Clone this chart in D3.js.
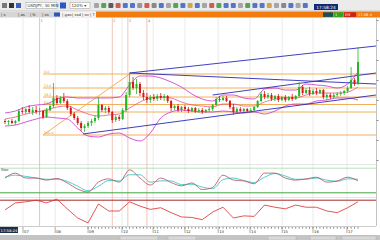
<!DOCTYPE html>
<html lang="en">
<head>
<meta charset="utf-8">
<title>USD/JPY 30 min</title>
<script src="https://d3js.org/d3.v7.min.js"></script>
<style>
  body { margin: 0; background: #fff; }
  svg { display: block; font-family: "DejaVu Sans", sans-serif; }
</style>
</head>
<body>
<script>
// ---- candles (one per bar) ----
var opens = [107.9,107.8,107.9,107.7,107.9,108.9,108.8,109.1,108.8,109.0,
  108.8,108.9,108.3,109.0,109.4,110.2,109.7,110.2,109.9,109.2,
  108.6,108.2,107.7,107.2,107.4,107.7,107.9,108.2,109.5,109.0,
  109.2,108.8,108.0,108.3,108.1,109.0,110.5,111.8,111.2,111.6,
  110.7,110.3,110.0,110.3,110.1,110.4,110.2,110.4,109.9,109.2,
  109.4,109.0,109.3,109.1,108.9,109.2,108.9,109.0,108.8,109.0,
  109.1,109.5,110.1,110.0,110.2,109.9,109.3,108.8,109.1,108.9,
  109.1,108.9,109.0,109.3,109.9,110.6,110.3,110.5,110.1,110.4,
  110.0,110.3,110.0,110.3,110.1,110.4,111.3,110.7,111.0,110.6,
  110.9,110.7,111.0,110.3,110.5,110.3,110.5,110.6,110.7,110.9,
  111.2,112.0,111.6];
var highs = [108.1,108.0,108.1,108.0,109.1,109.3,109.2,109.5,109.3,109.4,
  109.2,109.0,109.2,109.6,111.7,110.5,110.4,110.7,110.1,109.4,
  108.8,108.4,107.9,107.6,107.9,108.1,108.5,110.3,109.6,109.4,
  109.4,108.9,108.5,108.5,109.2,110.8,112.7,112.3,112.1,111.8,
  111.0,110.7,110.5,110.6,110.6,110.7,110.6,110.5,110.0,109.5,
  109.6,109.4,109.5,109.3,109.3,109.3,109.2,109.2,109.1,109.3,
  109.6,110.3,110.4,110.4,110.4,110.0,109.6,109.3,109.3,109.2,
  109.2,109.2,109.4,110.0,110.8,110.9,110.7,110.7,110.5,110.6,
  110.4,110.5,110.4,110.6,110.5,111.8,111.5,111.2,111.3,111.1,
  111.2,111.1,111.1,110.7,110.7,110.7,110.8,110.9,111.0,111.4,
  113.3,112.2,115.3];
var lows = [107.6,107.5,107.6,107.5,107.8,108.6,108.6,108.7,108.5,108.6,
  108.5,108.1,108.2,108.9,109.2,109.5,109.6,109.7,109.0,108.4,
  108.0,107.5,106.9,106.8,107.2,107.4,107.7,108.0,108.8,108.7,
  108.6,107.7,107.8,107.9,108.0,108.8,110.3,111.0,110.6,110.4,
  110.0,109.7,109.7,109.9,109.9,110.0,109.9,109.7,108.9,109.0,
  108.8,108.8,108.9,108.7,108.8,108.7,108.7,108.6,108.7,108.8,
  108.9,109.4,109.8,109.9,109.8,109.1,108.5,108.7,108.8,108.8,
  108.7,108.7,108.8,109.2,109.8,110.1,110.1,109.9,109.9,109.8,
  109.9,109.8,109.9,109.9,110.0,110.3,110.5,110.6,110.4,110.5,
  110.5,110.6,110.1,110.0,110.1,110.2,110.3,110.4,110.5,110.7,
  111.1,111.4,111.5];
var closes = [107.8,107.9,107.7,107.9,108.9,108.8,109.1,108.8,109.0,108.8,
  108.9,108.3,109.0,109.4,110.2,109.7,110.2,109.9,109.2,108.6,
  108.2,107.7,107.2,107.4,107.7,107.9,108.2,109.5,109.0,109.2,
  108.8,108.0,108.3,108.1,109.0,110.5,111.8,111.2,111.6,110.7,
  110.3,110.0,110.3,110.1,110.4,110.2,110.4,109.9,109.2,109.4,
  109.0,109.3,109.1,108.9,109.2,108.9,109.0,108.8,109.0,109.1,
  109.5,110.1,110.0,110.2,109.9,109.3,108.8,109.1,108.9,109.1,
  108.9,109.0,109.3,109.9,110.6,110.3,110.5,110.1,110.4,110.0,
  110.3,110.0,110.3,110.1,110.4,111.3,110.7,111.0,110.6,110.9,
  110.7,111.0,110.3,110.5,110.3,110.5,110.6,110.7,110.9,111.2,
  112.0,111.6,113.8];

// ---- indicators, read every 3rd bar ----
var bandUpper = [108.7,108.9,109.3,109.5,109.6,110.1,110.3,110.2,110.2,110.2,
  110.2,110.3,111.5,112.4,112.4,112.2,111.8,111.3,110.6,110.1,
  109.9,110.5,110.5,110.2,110.1,111.1,111.2,111.0,111.0,111.6,
  111.5,111.4,111.2,111.6,112.8];
var bandMid = [108.1,108.3,108.6,108.8,109.0,109.3,109.4,109.0,108.6,108.4,
  108.5,108.6,109.2,109.8,110.2,110.3,110.2,109.8,109.5,109.4,
  109.3,109.6,109.6,109.4,109.4,109.8,110.1,110.2,110.2,110.5,
  110.7,110.7,110.7,110.8,111.3];
var bandLower = [107.4,107.5,107.8,108.1,108.3,108.2,108.1,107.2,106.4,106.3,
  106.6,106.7,106.2,105.9,106.7,108.2,108.8,109.0,108.9,108.8,
  108.8,108.9,108.8,108.7,108.8,108.6,108.9,109.4,109.6,109.6,
  109.9,110.0,110.2,110.2,110.0];
var stochK = [56,68,56,56,51,55,44,29,22,46,54,46,76,56,39,56,45,37,44,28,
  33,63,51,49,42,68,68,56,51,54,58,46,49,58,49];
var stochD = [58,63,60,56,53,53,48,36,25,36,50,49,64,64,46,49,49,40,41,34,
  30,52,56,50,45,58,67,61,53,53,56,51,48,54,53];
var rsiVals = [52,65,67,70,65,72,54,37,28,63,50,50,67,59,53,56,47,39,38,34,
  48,57,37,41,40,61,57,54,61,57,57,50,47,56,67];
var sampleStep = 3;

// ---- drawings ----
var trendLines = [[36,112.7,107.2,115.4],[36,112.7,107.2,111.6],[22.5,106.6,107.2,110.5],[60,110.5,107.2,112.7]];
var fibPrices = [112.6,111.2,110.3,109.55,108.8,106.5];
var fibLabels = ["0.0","23.6","38.2","50.0","61.8","100.0"];
var fibStart = [11, 106.5], fibEnd = [36, 112.6];
var markerIdx = [10, 31, 35.5, 41];
var markerLabels = ["1", "2", "3", "4"];
var dayIdx = [5.2,14.5,24,33.8,42.8,52,61.6,70.8,80.1,89,98.8];
var dayLabels = ["07","08","09","10","11","12","13","14","15","16","17"];
var priceTicks = [104,106,108,110,112,114,116,118];

var W = 380, H = 240, plotR = 376;
var svg = d3.select("body").append("svg").attr("width", W).attr("height", H);

var x = d3.scaleLinear().domain([0, 102]).range([5, 358]);
var y = d3.scaleLinear().domain([103.5, 118.2]).range([165, 18]);
var yS = d3.scaleLinear().domain([0, 100]).range([201, 160]);
var yR = d3.scaleLinear().domain([0, 100]).range([238, 184]);

var defs = svg.append("defs");
function clip(id, y0, y1) {
  defs.append("clipPath").attr("id", id).append("rect")
    .attr("x", 0).attr("y", y0).attr("width", plotR).attr("height", y1 - y0);
}
clip("cMain", 18, 164);
clip("cSto", 165, 197);
clip("cRsi", 198, 226);

// ---- toolbar ----
svg.append("rect").attr("width", W).attr("height", 11).attr("fill", "#ebebeb");
svg.append("line").attr("x1", 0).attr("x2", W).attr("y1", 11).attr("y2", 11).attr("stroke", "#b5b5b5").attr("stroke-width", 0.6);
var leftIcons = ["#777", "#333", "#3a62c4"];
svg.selectAll(".li").data(leftIcons).enter().append("rect")
  .attr("x", function(d, i) { return 2 + i * 7; }).attr("y", 3).attr("width", 5).attr("height", 5)
  .attr("fill", function(d) { return d; });
svg.append("rect").attr("x", 26).attr("y", 2.5).attr("width", 31).attr("height", 6).attr("fill", "#fff").attr("stroke", "#9a9a9a").attr("stroke-width", 0.5);
svg.append("text").attr("x", 27.5).attr("y", 7.3).attr("font-size", 4).attr("fill", "#333").text("USDJPY, 30 MIN");
svg.append("rect").attr("x", 60).attr("y", 2.5).attr("width", 6).attr("height", 6).attr("fill", "#2f57c0");
svg.append("rect").attr("x", 70).attr("y", 2.5).attr("width", 20).attr("height", 6).attr("fill", "#fff").attr("stroke", "#9a9a9a").attr("stroke-width", 0.5);
svg.append("text").attr("x", 71.5).attr("y", 7.3).attr("font-size", 4).attr("fill", "#333").text("120% ▾");
var iconColors = ["#999","#3a9a3a","#444","#c43","#3a62c4","#3a62c4","#888","#c43","#777","#3a62c4",
  "#999","#3a9a3a","#3a62c4","#c93","#3a62c4","#999","#c43","#3a9a3a","#3a62c4","#3a62c4",
  "#999","#3a9a3a","#3a62c4","#3a62c4","#c93","#999","#777","#3a62c4","#999","#3a62c4"];
svg.selectAll(".ic").data(iconColors).enter().append("rect")
  .attr("x", function(d, i) { return 94 + i * 7.2; }).attr("y", 3).attr("width", 5).attr("height", 5)
  .attr("rx", 1).attr("fill", function(d) { return d; }).attr("opacity", 0.85);
svg.append("rect").attr("x", 314).attr("y", 4).attr("width", 24).attr("height", 6).attr("fill", "#142874");
svg.append("text").attr("x", 326).attr("y", 8.6).attr("text-anchor", "middle").attr("font-size", 4.3).attr("fill", "#fff").text("17:58:24");

// ---- tab row ----
svg.append("rect").attr("x", 0).attr("y", 11.5).attr("width", 96).attr("height", 6).attr("fill", "#d6d6d6");
svg.append("rect").attr("x", 60).attr("y", 11.5).attr("width", 36).attr("height", 6).attr("fill", "#f4f4f4");
svg.append("rect").attr("x", 54).attr("y", 12.5).attr("width", 6).attr("height", 4).attr("fill", "#2f57c0");
var tabs = [[1, "s"], [18, "as"], [30, "fc"], [42, "os"], [62, "gao"], [72, "ssd"], [82, "ov"], [90, "T"]];
svg.selectAll(".tab").data(tabs).enter().append("text")
  .attr("x", function(d) { return d[0]; }).attr("y", 16.3).attr("font-size", 3.8).attr("fill", "#333")
  .text(function(d) { return "| " + d[1]; });
svg.append("rect").attr("x", 96).attr("y", 11.5).attr("width", W - 96).attr("height", 6).attr("fill", "#f37a0c");
var statBoxes = [[323, 10, "#1d4f5a", ""], [334, 9, "#2aa52a", "1"], [344, 12, "#c8201c", "EM"]];
statBoxes.forEach(function(b) {
  svg.append("rect").attr("x", b[0]).attr("y", 12.3).attr("width", b[1]).attr("height", 4.6).attr("fill", b[2]);
  svg.append("text").attr("x", b[0] + 1).attr("y", 16).attr("font-size", 3.6).attr("fill", "#fff").text(b[3]);
});
svg.append("text").attr("x", 358).attr("y", 16).attr("font-size", 3.6).attr("fill", "#fff").text("17:56 ✕");

// ---- grid & separators ----
var g = svg.append("g");
g.selectAll(".vg").data(dayIdx).enter().append("line")
  .attr("x1", function(d) { return x(d); }).attr("x2", function(d) { return x(d); })
  .attr("y1", 18).attr("y2", 226).attr("stroke", "#e2e2e2").attr("stroke-width", 0.7);
[164.5, 197.5].forEach(function(v) {
  g.append("line").attr("x1", 0).attr("x2", plotR).attr("y1", v).attr("y2", v).attr("stroke", "#d4d4d4").attr("stroke-width", 0.6);
});
g.append("line").attr("x1", plotR + 0.5).attr("x2", plotR + 0.5).attr("y1", 18).attr("y2", 226).attr("stroke", "#9a9a9a").attr("stroke-width", 0.6);

// vertical marker lines
g.selectAll(".mk").data(markerIdx).enter().append("line")
  .attr("x1", function(d) { return x(d); }).attr("x2", function(d) { return x(d); })
  .attr("y1", 18).attr("y2", 226)
  .attr("stroke", function(d, i) { return i === 0 ? "#e9b77a" : "#f0b4a4"; }).attr("stroke-width", 0.8);
g.selectAll(".mkl").data(markerIdx).enter().append("text")
  .attr("x", function(d) { return x(d) + 1; }).attr("y", 22).attr("font-size", 3.5).attr("fill", "#b07a50")
  .text(function(d, i) { return markerLabels[i]; });

// ---- main panel ----
var main = svg.append("g").attr("clip-path", "url(#cMain)");

// fibonacci
main.selectAll(".fib").data(fibPrices).enter().append("line")
  .attr("x1", x(fibStart[0])).attr("x2", plotR)
  .attr("y1", function(d) { return y(d); }).attr("y2", function(d) { return y(d); })
  .attr("stroke", "#f3a64a").attr("stroke-width", 0.9);
main.selectAll(".fibl").data(fibPrices).enter().append("text")
  .attr("x", x(fibStart[0]) + 1).attr("y", function(d) { return y(d) - 1; })
  .attr("font-size", 3.3).attr("fill", "#d88a30")
  .text(function(d, i) { return fibLabels[i]; });
main.append("line").attr("x1", x(fibStart[0])).attr("y1", y(fibStart[1]))
  .attr("x2", x(fibEnd[0])).attr("y2", y(fibEnd[1])).attr("stroke", "#f3a64a").attr("stroke-width", 0.9);

// bollinger
var bandLine = d3.line().x(function(d, i) { return x(i * sampleStep); }).y(function(d) { return y(d); }).curve(d3.curveMonotoneX);
main.append("path").attr("d", bandLine(bandUpper)).attr("fill", "none").attr("stroke", "#c830c8").attr("stroke-width", 0.8);
main.append("path").attr("d", bandLine(bandLower)).attr("fill", "none").attr("stroke", "#c830c8").attr("stroke-width", 0.8);
main.append("path").attr("d", bandLine(bandMid)).attr("fill", "none").attr("stroke", "#e2427a").attr("stroke-width", 0.7);

// trend lines
main.selectAll(".tl").data(trendLines).enter().append("line")
  .attr("x1", function(d) { return x(d[0]); }).attr("y1", function(d) { return y(d[1]); })
  .attr("x2", function(d) { return x(d[2]); }).attr("y2", function(d) { return y(d[3]); })
  .attr("stroke", "#2a2ab8").attr("stroke-width", 0.9);

// candles
var bars = d3.range(opens.length);
var up = function(i) { return closes[i] >= opens[i]; };
main.selectAll(".wick").data(bars).enter().append("line")
  .attr("x1", function(i) { return x(i); }).attr("x2", function(i) { return x(i); })
  .attr("y1", function(i) { return y(highs[i]); }).attr("y2", function(i) { return y(lows[i]); })
  .attr("stroke", function(i) { return up(i) ? "#26b526" : "#d81818"; }).attr("stroke-width", 0.8);
main.selectAll(".body").data(bars).enter().append("rect")
  .attr("x", function(i) { return x(i) - 1; }).attr("width", 2)
  .attr("y", function(i) { return y(Math.max(opens[i], closes[i])); })
  .attr("height", function(i) { return Math.max(0.8, Math.abs(y(opens[i]) - y(closes[i]))); })
  .attr("fill", function(i) { return up(i) ? "#26b526" : "#d81818"; });

// right price axis: only the tick marks fit inside the window
svg.append("g").attr("transform", "translate(" + (plotR + 0.5) + ",0)")
  .call(d3.axisRight(y).tickValues(priceTicks).tickSize(2).tickFormat(""))
  .call(function(a) { a.select(".domain").remove(); a.selectAll("line").attr("stroke", "#888"); });

// ---- stochastic panel ----
var sto = svg.append("g").attr("clip-path", "url(#cSto)");
sto.append("line").attr("x1", 0).attr("x2", plotR).attr("y1", yS(80)).attr("y2", yS(80)).attr("stroke", "#a8dca8").attr("stroke-width", 0.8);
sto.append("line").attr("x1", 0).attr("x2", plotR).attr("y1", yS(20)).attr("y2", yS(20)).attr("stroke", "#2f9e2f").attr("stroke-width", 0.9);
var stoLine = d3.line().x(function(d, i) { return x(i * sampleStep); }).y(function(d) { return yS(d); }).curve(d3.curveMonotoneX);
sto.append("path").attr("d", stoLine(stochD)).attr("fill", "none").attr("stroke", "#3cc8c8").attr("stroke-width", 0.9);
sto.append("path").attr("d", stoLine(stochK)).attr("fill", "none").attr("stroke", "#b84a5a").attr("stroke-width", 0.8);
svg.append("text").attr("x", 1).attr("y", 171).attr("font-size", 3.5).attr("fill", "#333").text("Stoc");

// ---- second oscillator ----
var rsi = svg.append("g").attr("clip-path", "url(#cRsi)");
rsi.append("line").attr("x1", 0).attr("x2", plotR).attr("y1", yR(70)).attr("y2", yR(70)).attr("stroke", "#9a1414").attr("stroke-width", 0.9);
var rsiLine = d3.line().x(function(d, i) { return x(i * sampleStep); }).y(function(d) { return yR(d); });
rsi.append("path").attr("d", rsiLine(rsiVals)).attr("fill", "none").attr("stroke", "#e02828").attr("stroke-width", 0.8);

// ---- time axis ----
svg.append("line").attr("x1", 0).attr("x2", plotR).attr("y1", 226.5).attr("y2", 226.5).attr("stroke", "#aaa").attr("stroke-width", 0.6);
svg.selectAll(".bt").data(bars.filter(function(i) { return i >= 24; })).enter().append("line")
  .attr("x1", function(i) { return x(i); }).attr("x2", function(i) { return x(i); })
  .attr("y1", 227).attr("y2", 228.6).attr("stroke", "#333").attr("stroke-width", 0.6);
svg.selectAll(".dt").data(dayIdx).enter().append("line")
  .attr("x1", function(d) { return x(d); }).attr("x2", function(d) { return x(d); })
  .attr("y1", 227).attr("y2", 233).attr("stroke", "#555").attr("stroke-width", 0.5);
svg.selectAll(".dl").data(dayIdx).enter().append("text")
  .attr("x", function(d) { return x(d) + 1; }).attr("y", 232.5).attr("font-size", 3.8).attr("fill", "#333")
  .text(function(d, i) { return dayLabels[i]; });
svg.append("rect").attr("x", 0).attr("y", 227).attr("width", 18).attr("height", 6).attr("fill", "#1c2c4c");
svg.append("text").attr("x", 9).attr("y", 231.5).attr("text-anchor", "middle").attr("font-size", 3.8).attr("fill", "#fff").text("17:58:24");

// ---- status bar ----
svg.append("rect").attr("x", 0).attr("y", 235).attr("width", W).attr("height", 5).attr("fill", "#c4c4c4");
[[120, 40], [168, 30], [268, 30], [310, 28], [342, 36]].forEach(function(s) {
  svg.append("rect").attr("x", s[0]).attr("y", 236).attr("width", s[1] - 2).attr("height", 4).attr("fill", "#d8d8d8").attr("stroke", "#aaa").attr("stroke-width", 0.4);
});
</script>
</body>
</html>
